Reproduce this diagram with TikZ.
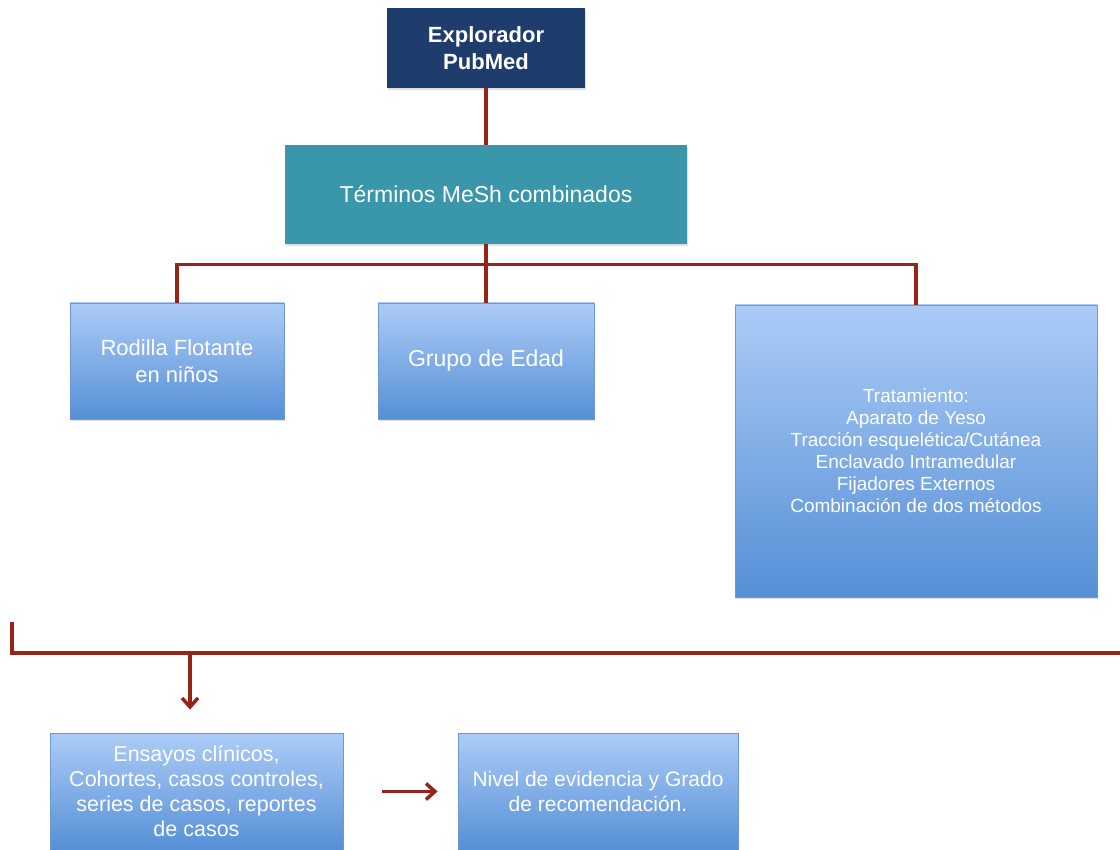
\documentclass[tikz,border=0pt]{standalone}
\usepackage{fontspec}
\setmainfont{Liberation Sans}
\usetikzlibrary{arrows.meta,positioning,shadows}
\definecolor{navy}{RGB}{31,61,108}
\definecolor{tealbox}{RGB}{57,150,171}
\definecolor{bluetop}{RGB}{172,204,247}
\definecolor{bluebot}{RGB}{86,143,214}
\definecolor{blueline}{RGB}{112,152,208}
\definecolor{linkred}{RGB}{150,36,24}

\begin{document}
\begin{tikzpicture}[x=1pt, y=-1pt,
    bluebox/.style={rectangle, draw=blueline, line width=0.8pt, top color=bluetop, bottom color=bluebot, text=white, align=center, inner sep=0pt,
        drop shadow={opacity=0.25, shadow xshift=1pt, shadow yshift=-2pt}},
    link/.style={draw=linkred, line width=\lw pt},
    linkarrow/.style={link, -{Straight Barb[length=9pt, width=16pt, line width=\lw pt]}}]
        \def\lw{3.5}
        \useasboundingbox (0,0) rectangle (1120,850);

        \node(explorador) [rectangle, fill=navy, text=white, align=center, inner sep=0pt, minimum width = 198pt, minimum height = 80pt,
            drop shadow={opacity=0.25, shadow xshift=1pt, shadow yshift=-2pt},
            font=\fontsize{22}{27}\selectfont\bfseries] at (486,48) {Explorador\\PubMed};
        \node(terminos) [rectangle, fill=tealbox, text=white, align=center, inner sep=0pt, minimum width = 402pt, minimum height = 99pt,
            drop shadow={opacity=0.25, shadow xshift=1pt, shadow yshift=-2pt},
            font=\fontsize{23}{28}\selectfont] at (486,194.5) {Términos MeSh combinados};

        \node(rodilla) [bluebox, minimum width = 214pt, minimum height = 116pt, font=\fontsize{22}{27}\selectfont] at (177,361) {Rodilla Flotante\\en niños};
        \node(grupo) [bluebox, minimum width = 216pt, minimum height = 116pt, font=\fontsize{23}{28}\selectfont] at (486,361) {Grupo de Edad};
        \node(tratamiento) [bluebox, minimum width = 362pt, minimum height = 292pt, font=\fontsize{19}{22}\selectfont] at (916,451)
            {Tratamiento:\\Aparato de Yeso\\Tracción esquelética/Cutánea\\Enclavado Intramedular\\Fijadores Externos\\Combinación de dos métodos};

        \node(ensayos) [bluebox, minimum width = 293pt, minimum height = 117pt, font=\fontsize{21.5}{25}\selectfont] at (196.5,791.5)
            {Ensayos clínicos,\\Cohortes, casos controles,\\series de casos, reportes\\de casos};
        \node(nivel) [bluebox, minimum width = 280pt, minimum height = 117pt, font=\fontsize{21}{25}\selectfont] at (598,791.5)
            {Nivel de evidencia y Grado\\de recomendación.};

        \draw[link] (explorador.south) -- (terminos.north);
        \draw[link] (terminos.south) -- (grupo.north);
        \draw[link] (rodilla.north) -- ++(0,-38) -| (tratamiento.north);

        % bracket under the tree
        \coordinate (brktop) at (12,622);
        \coordinate (brkend) at (1120,653);
        \coordinate (drop) at (190,653);
        \draw[link] (brktop) |- (brkend);
        \draw[linkarrow, shorten >=23pt] (drop) -- (drop |- ensayos.north);
        \draw[linkarrow, shorten <=39pt, shorten >=20pt] (ensayos.east) -- (nivel.west);
    \end{tikzpicture}
\end{document}
